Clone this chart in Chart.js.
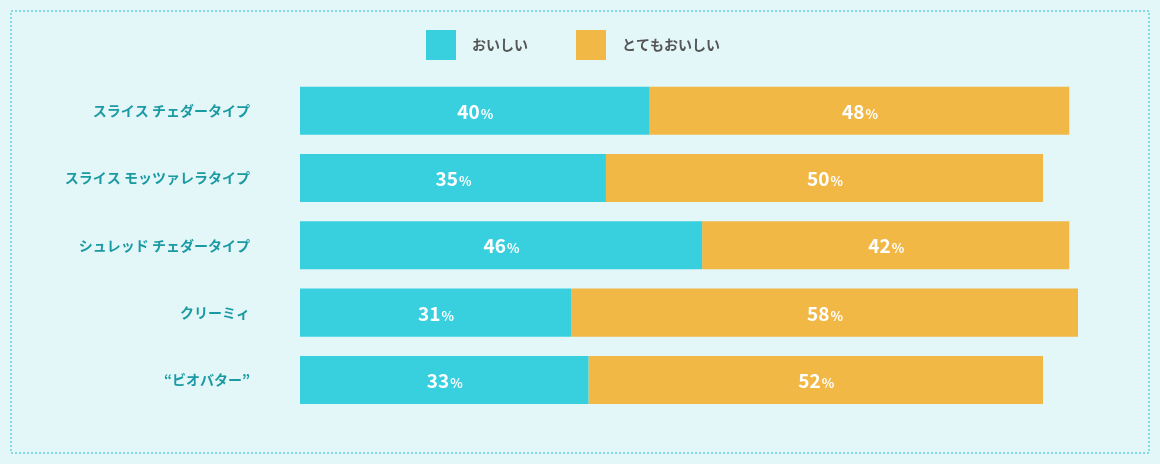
<!DOCTYPE html>
<html><head><meta charset="utf-8">
<script src="https://cdn.jsdelivr.net/npm/chart.js@4/dist/chart.umd.min.js"></script>
<style>html,body{margin:0;padding:0;background:#e3f6f8}#w{width:1160px;height:464px;position:relative}</style>
</head><body><div id="w"><canvas id="c"></canvas></div>
<script>
const categories = ["スライス チェダータイプ","スライス モッツァレラタイプ","シュレッド チェダータイプ","クリーミィ","“ビオバター”"];
const oishii = [40,35,46,31,33];
const totemo = [48,50,42,58,52];
const seriesNames = ["おいしい","とてもおいしい"];
const colors = ["#38d0de","#f1b846"];
const FONT = '"Noto Sans CJK JP","Noto Sans",sans-serif';

const deco = {
  id:'deco',
  beforeDraw(ch){
    const c=ch.ctx; c.save();
    c.fillStyle='#e3f6f8'; c.fillRect(0,0,ch.width,ch.height);
    c.strokeStyle='#5fd3dc'; c.lineWidth=1.5; c.setLineDash([2,2]);
    c.strokeRect(11,11,1138,442);
    c.restore();
  },
  afterDraw(ch){
    const c=ch.ctx; c.save();
    // legend
    const xs=[426,576];
    ch.data.datasets.forEach((ds,i)=>{
      c.fillStyle=ds.backgroundColor; c.fillRect(xs[i],30,30,30);
      c.fillStyle='#555'; c.font='bold 14px '+FONT; c.textBaseline='middle'; c.textAlign='left';
      c.fillText(ds.label,xs[i]+46,45);
    });
    // value labels
    ch.data.datasets.forEach((ds,i)=>{
      ch.getDatasetMeta(i).data.forEach((bar,j)=>{
        const v=ds.data[j];
        const cx=(bar.x+bar.base)/2, cy=bar.y+1;
        c.font='bold 19px '+FONT; const w1=c.measureText(String(v)).width;
        c.font='bold 13px '+FONT; const w2=c.measureText('%').width;
        const x0=cx-(w1+w2)/2;
        c.fillStyle='#fff'; c.textBaseline='alphabetic'; c.textAlign='left';
        c.font='bold 19px '+FONT; c.fillText(String(v),x0,cy+7);
        c.font='bold 13px '+FONT; c.fillText('%',x0+w1+1,cy+7);
      });
    });
    c.restore();
  }
};

new Chart(document.getElementById('c'),{
  type:'bar',
  data:{labels:categories,datasets:[
    {label:seriesNames[0],data:oishii,backgroundColor:colors[0]},
    {label:seriesNames[1],data:totemo,backgroundColor:colors[1]}
  ]},
  options:{
    indexAxis:'y',responsive:true,maintainAspectRatio:false,animation:false,
    layout:{padding:{top:77,bottom:37,left:0,right:82}},
    datasets:{bar:{categoryPercentage:1,barPercentage:0.714}},
    plugins:{legend:{display:false},tooltip:{enabled:false}},
    scales:{
      x:{stacked:true,min:0,max:89,display:false},
      y:{stacked:true,grid:{display:false},border:{display:false},
         ticks:{color:'#1a9aa3',padding:42,font:{family:FONT,size:14,weight:'bold'}},
         afterFit(s){s.width=300;}}
    }
  },
  plugins:[deco]
});
</script></body></html>
